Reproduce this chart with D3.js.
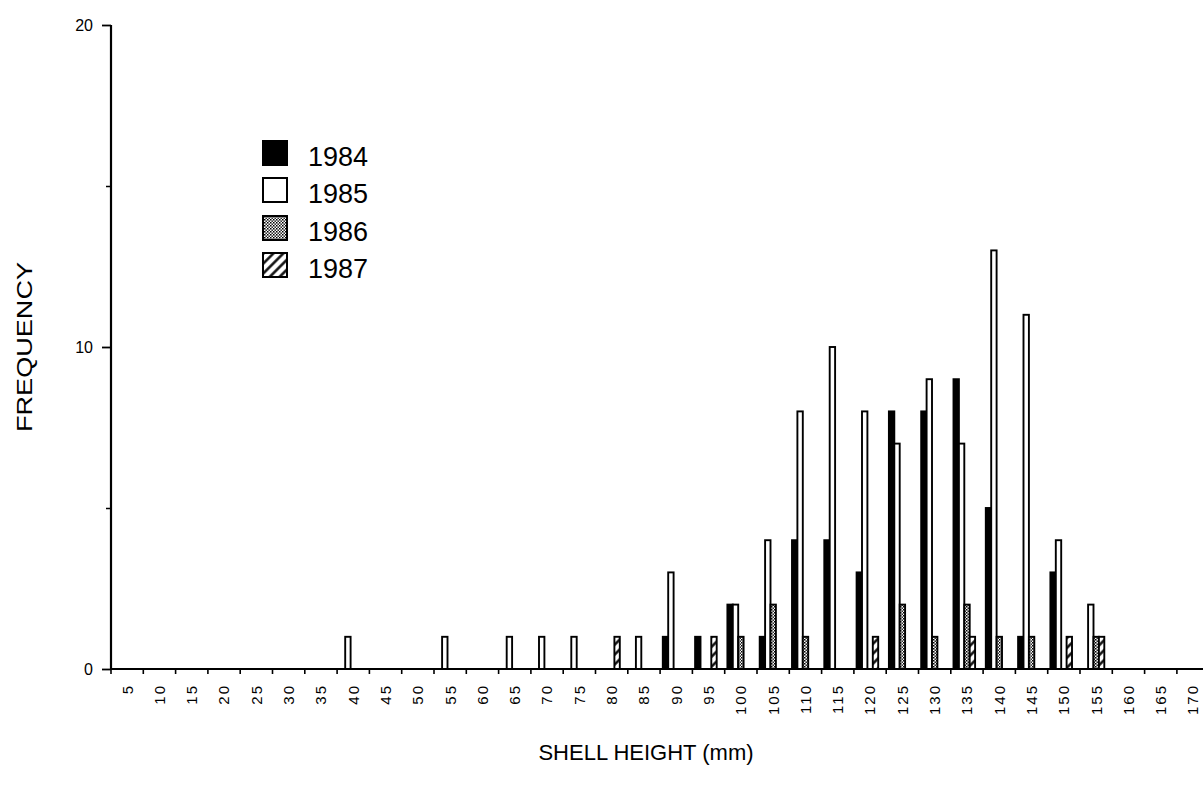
<!DOCTYPE html>
<html>
<head>
<meta charset="utf-8">
<script src="https://cdn.jsdelivr.net/npm/d3@7"></script>
<style>
  html, body { margin: 0; padding: 0; background: #fff; }
  svg { display: block; }
  text { font-family: "Liberation Sans", Arial, Helvetica, sans-serif; fill: #000; }
</style>
</head>
<body>
<svg id="chart" width="1203" height="790"></svg>
<script>
// ---- data ----
const categories = ["5","10","15","20","25","30","35","40","45","50","55","60","65","70","75","80","85","90","95","100","105","110","115","120","125","130","135","140","145","150","155","160","165","170"];
const seriesNames = ["1984","1985","1986","1987"];
const values1984 = [0,0,0,0,0,0,0,0,0,0,0,0,0,0,0,0,0,1,1,2,1,4,4,3,8,8,9,5,1,3,0,0,0,0];
const values1985 = [0,0,0,0,0,0,0,1,0,0,1,0,1,1,1,0,1,3,0,2,4,8,10,8,7,9,7,13,11,4,2,0,0,0];
const values1986 = [0,0,0,0,0,0,0,0,0,0,0,0,0,0,0,0,0,0,0,1,2,1,0,0,2,1,2,1,1,0,1,0,0,0];
const values1987 = [0,0,0,0,0,0,0,0,0,0,0,0,0,0,0,1,0,0,1,0,0,0,0,1,0,0,1,0,0,1,1,0,0,0];
const yMajorTicks = [0, 10, 20];
const yMinorTicks = [5, 15];

const seriesValues = [values1984, values1985, values1986, values1987];

// ---- layout ----
const svg = d3.select("#chart");
const plotLeft = 111, plotTop = 25, plotBottom = 669;
const bandW = 32.3;
const plotRight = plotLeft + bandW * categories.length;

const x = d3.scaleBand().domain(categories).range([plotLeft, plotRight]).paddingInner(0).paddingOuter(0);
const x1 = d3.scaleBand().domain(seriesNames).range([2.7, 2.7 + 21.6]).padding(0);
const y = d3.scaleLinear().domain([0, 20]).range([plotBottom, plotTop]);

// ---- patterns ----
const defs = svg.append("defs");
const dots = defs.append("pattern").attr("id", "dots")
  .attr("patternUnits", "userSpaceOnUse").attr("width", 3).attr("height", 3);
dots.append("rect").attr("width", 3).attr("height", 3).attr("fill", "#fff");
dots.append("rect").attr("x", 0).attr("y", 0).attr("width", 1.5).attr("height", 1.5).attr("fill", "#000");
dots.append("rect").attr("x", 1.5).attr("y", 1.5).attr("width", 1.4).attr("height", 1.4).attr("fill", "#000");

const hatch = defs.append("pattern").attr("id", "hatch")
  .attr("patternUnits", "userSpaceOnUse").attr("width", 7).attr("height", 7)
  .attr("patternTransform", "rotate(45)");
hatch.append("rect").attr("width", 7).attr("height", 7).attr("fill", "#fff");
hatch.append("line").attr("x1", 1.5).attr("y1", 0).attr("x2", 1.5).attr("y2", 7)
  .attr("stroke", "#000").attr("stroke-width", 2.4);

const fills = { "1984": "#000", "1985": "#fff", "1986": "url(#dots)", "1987": "url(#hatch)" };

// ---- bars ----
const barData = [];
seriesNames.forEach((s, si) => {
  seriesValues[si].forEach((v, ci) => {
    if (v > 0) barData.push({ series: s, cat: categories[ci], value: v });
  });
});

svg.append("g").selectAll("rect").data(barData).join("rect")
  .attr("x", d => x(d.cat) + x1(d.series))
  .attr("y", d => y(d.value))
  .attr("width", x1.bandwidth())
  .attr("height", d => y(0) - y(d.value))
  .attr("fill", d => fills[d.series])
  .attr("stroke", "#000")
  .attr("stroke-width", 1.9);

// ---- axes ----
const yAxisMajor = d3.axisLeft(y).tickValues(yMajorTicks).tickSize(9).tickPadding(9).tickFormat(d3.format("d"));
const gy = svg.append("g").attr("transform", `translate(${plotLeft},0)`).call(yAxisMajor);
gy.attr("font-size", null).attr("font-family", null);
gy.select(".domain").remove();
gy.selectAll(".tick line").attr("stroke", "#000").attr("stroke-width", 1.8);
gy.selectAll(".tick text").style("font-size", "16px").attr("dy", "0.35em");

const yAxisMinor = d3.axisLeft(y).tickValues(yMinorTicks).tickSize(5).tickFormat("");
const gym = svg.append("g").attr("transform", `translate(${plotLeft},0)`).call(yAxisMinor);
gym.select(".domain").remove();
gym.selectAll(".tick line").attr("stroke", "#000").attr("stroke-width", 1.5);

svg.append("line").attr("x1", plotLeft).attr("x2", plotLeft).attr("y1", y(20)).attr("y2", y(0))
  .attr("stroke", "#000").attr("stroke-width", 2.2);

svg.append("line").attr("x1", plotLeft).attr("x2", plotRight).attr("y1", y(0)).attr("y2", y(0))
  .attr("stroke", "#000").attr("stroke-width", 2.2);

const boundaries = categories.map(c => x(c)).concat([plotRight]);
svg.append("g").selectAll("line.xt").data(boundaries).join("line")
  .attr("class", "xt")
  .attr("x1", d => d).attr("x2", d => d)
  .attr("y1", y(0)).attr("y2", y(0) + 5)
  .attr("stroke", "#000").attr("stroke-width", 1.6);

const xAxis = d3.axisBottom(x).tickSize(0).tickPadding(0);
const gx = svg.append("g").attr("transform", `translate(0,${y(0)})`).call(xAxis);
gx.attr("font-size", null).attr("font-family", null);
gx.select(".domain").remove();
gx.selectAll(".tick text")
  .attr("transform", "translate(0,15) rotate(-90)")
  .attr("x", 0).attr("y", 0).attr("dy", "0.36em")
  .attr("text-anchor", "end")
  .style("font-size", "15px")
  .style("letter-spacing", "2px");

// ---- axis titles ----
svg.append("text")
  .attr("x", 646).attr("y", 760)
  .attr("text-anchor", "middle")
  .style("font-size", "22px")
  .text("SHELL HEIGHT (mm)");

svg.append("text")
  .attr("transform", "translate(32,347) rotate(-90)")
  .attr("text-anchor", "middle")
  .attr("textLength", 170).attr("lengthAdjust", "spacingAndGlyphs")
  .style("font-size", "22px")
  .text("FREQUENCY");

// ---- legend ----
const legend = svg.append("g");
const legendTops = [141, 178, 216, 253];
seriesNames.forEach((s, i) => {
  legend.append("rect")
    .attr("x", 263).attr("y", legendTops[i])
    .attr("width", 24).attr("height", 24)
    .attr("fill", fills[s]).attr("stroke", "#000").attr("stroke-width", 2);
  legend.append("text")
    .attr("x", 308).attr("y", legendTops[i] + 25)
    .style("font-size", "27px")
    .text(s);
});
</script>
</body>
</html>
